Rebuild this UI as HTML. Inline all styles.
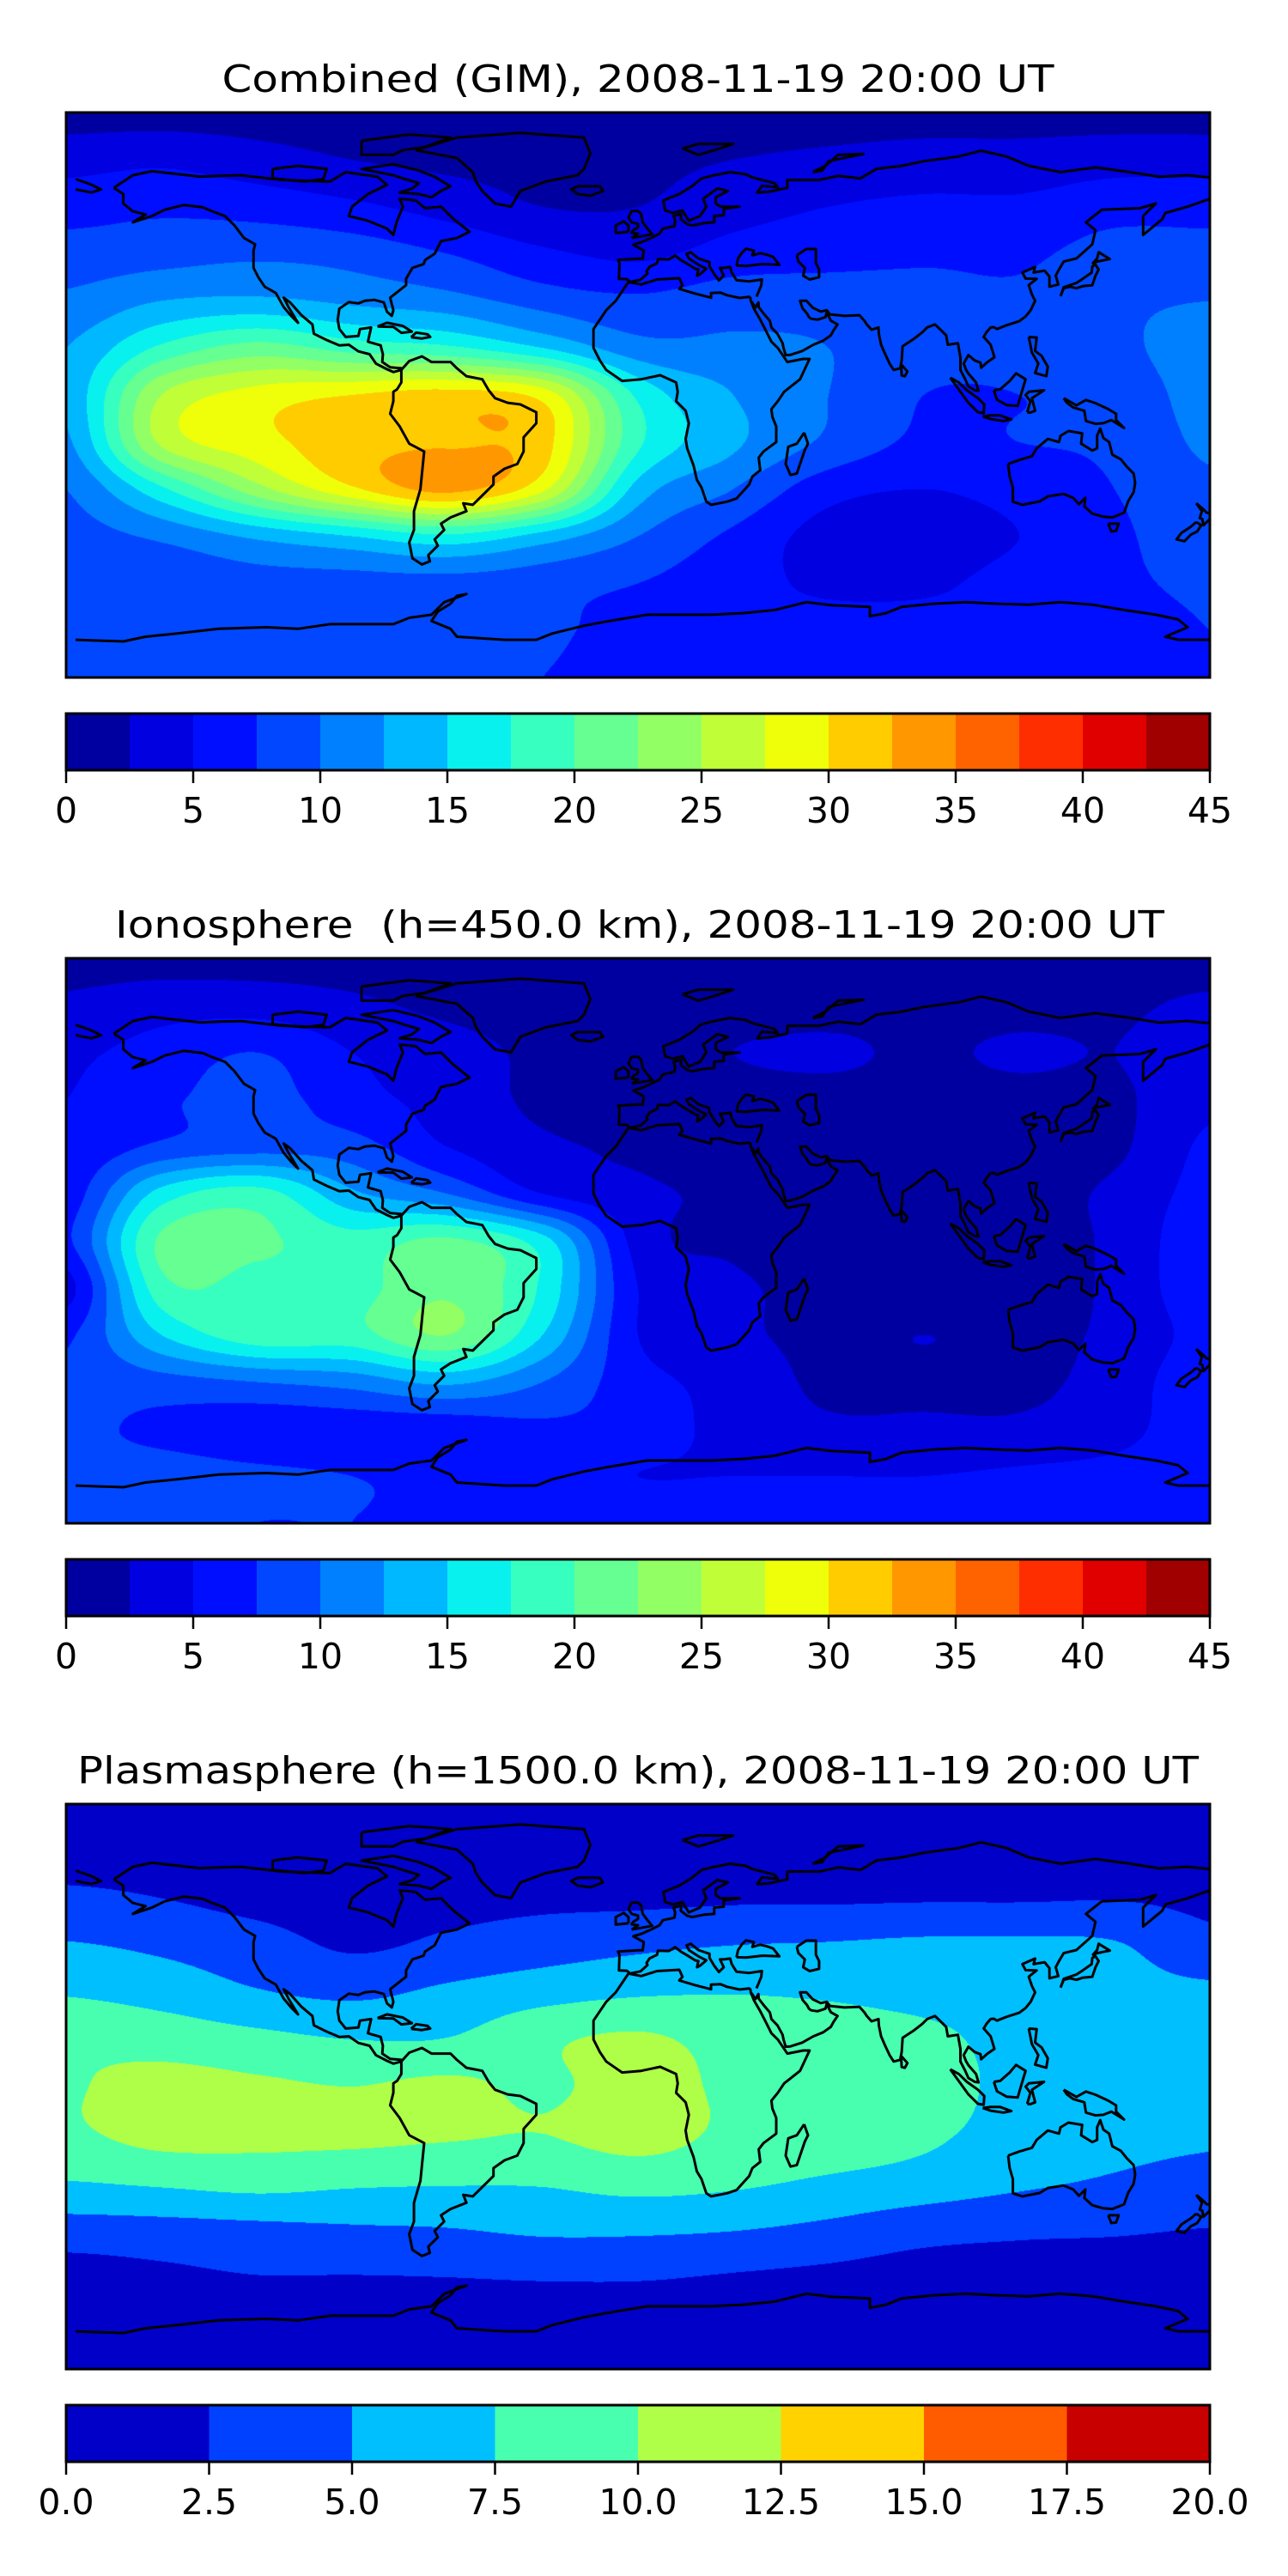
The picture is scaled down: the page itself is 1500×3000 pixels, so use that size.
<!DOCTYPE html>
<html>
<head>
<meta charset="utf-8">
<style>
  html, body { margin: 0; padding: 0; background: #ffffff; }
  body { width: 1500px; height: 3000px; position: relative; overflow: hidden; font-family: "DejaVu Sans", "Liberation Sans", sans-serif; }
  canvas { position: absolute; }
  #overlay { position: absolute; left: 0; top: 0; }
</style>
</head>
<body>
<canvas id="map0" width="1332" height="658" style="left:77px;top:131px"></canvas>
<canvas id="map1" width="1332" height="658" style="left:77px;top:1116px"></canvas>
<canvas id="map2" width="1332" height="658" style="left:77px;top:2101px"></canvas>
<svg id="overlay" width="1500" height="3000" xmlns="http://www.w3.org/2000/svg">
  <text x="743" y="107" font-size="44" text-anchor="middle" textLength="969" lengthAdjust="spacingAndGlyphs" font-family="DejaVu Sans, Liberation Sans, sans-serif">Combined (GIM), 2008-11-19 20:00 UT</text>
  <text x="745" y="1092" font-size="44" text-anchor="middle" textLength="1222" lengthAdjust="spacingAndGlyphs" font-family="DejaVu Sans, Liberation Sans, sans-serif" xml:space="preserve">Ionosphere  (h=450.0 km), 2008-11-19 20:00 UT</text>
  <text x="743" y="2077" font-size="44" text-anchor="middle" textLength="1306" lengthAdjust="spacingAndGlyphs" font-family="DejaVu Sans, Liberation Sans, sans-serif">Plasmasphere (h=1500.0 km), 2008-11-19 20:00 UT</text>
</svg>
<script>
// ---------- data ----------
const lonNodes = [-180,-150,-120,-90,-60,-30,0,30,60,90,120,150,180];
const latNodes = [90,75,60,45,30,15,0,-15,-30,-45,-60,-75,-90];

const combinedGrid = [
  [1.5,1.5,1.5,1.5,1.5,1.5,1.5,1.5,1.5,1.5,1.5,1.5,1.5],
  [4,4.5,3.5,2.5,2,2,2,2.5,3,3.5,3.5,4,4],
  [6.5,7,6.5,5.5,4,2.5,2.5,4,5,5.5,5.5,6.5,6.5],
  [8.5,9,9.5,9,7.5,5.5,4.5,6,6.5,7,7,8.5,8.5],
  [10.5,12.5,13,12,11,9,8,9,9,8.5,8,9.5,10],
  [12.5,18,21,19,18,15,11,10.5,10,8.5,8.5,9.5,11],
  [13,25,28.5,30,31,29,17,12.5,10,7.5,7.5,8.5,11],
  [12,25.5,29,31.5,32.2,31,18,13,9.5,7,7.5,8,10.5],
  [10,17,24,29.5,33.2,28,14,10,6,5,6,7.5,9.5],
  [9,10.5,13,15,17,14,10,7,4,3.5,5,7,9],
  [8.5,8.5,9,9,9,8.5,7.5,6,4.5,4.5,6,7,8],
  [8.5,8.5,9,9,8.5,8,6.5,6,6,6,6,6.5,7.5],
  [8,8,8,8,8,7.5,6.5,6,6,6,6,6.5,7.5]
];
const ionoGrid = [
  [1.5,1.5,1.5,1.5,1.5,1.5,1.5,1.5,1.5,1.5,1.5,1.5,1.5],
  [3,4,4,3,2,1.5,1.5,1.5,1.5,1.5,1.5,2,3],
  [4.5,6,7.5,5,3.5,2,1.5,2.5,3,2,3,2.5,4.5],
  [5,7,8.5,6,4,2,1.5,1.5,1.5,1.5,1.5,2,4.5],
  [5.5,8,9,8.5,5,3,2,1,1,1,1,2,5.5],
  [6,16,18.5,13,10,5,3,2,1,1,1.5,3,6],
  [7,20.5,20.5,18.5,20.5,16,4,2,1,1,1.5,3,7],
  [4,19,19,19,22,17,5,3,1.5,1,1.5,3,7],
  [7,15,19,19,22.5,15,5,3,2,2.5,2,3,6],
  [8,9,10,11,13,10,6,4,2,2,2,3.5,7],
  [8,7,6,6,6,7,6.5,4,3,3,3,4,7],
  [8,8.5,8,7.5,7,6,5,5,5,5,5.5,6,7],
  [8,8,7.5,7.5,7,7,7,7,7,7,7,7,7]
];
const plasmaGrid = [
  [1,1,1,1,1,1,1,1,1,1,1,1,1],
  [1.5,1.5,1.5,1.5,1.5,1.5,1.5,1.5,1.5,1.5,1.5,1.5,1.5],
  [3,2.5,1.8,1.5,1.8,2,2,2.2,2.2,2.3,2.3,2.4,2],
  [5.2,4.5,3.5,2.2,3,3.8,4.5,5,5.2,5.5,5.5,5.2,3.2],
  [7.3,6.5,5.2,4.5,5.5,6.5,7.2,7.4,7.2,6.8,6.5,5.8,5.5],
  [9.5,9,8.2,7.5,7.6,9.5,10.4,9,8.5,8,6.8,6.2,6],
  [9.8,10.8,10.4,10,10.5,9.6,11,9.5,9,8.5,6.8,6,5.8],
  [9.6,10.8,10.6,10.6,10.3,10,11,9.5,9,8,6.5,5.5,5.2],
  [7.5,8,8.5,8,7.8,7.8,8.5,8,7.2,6.5,5.5,4.8,4.5],
  [4,4.2,4.5,4.8,5,5.5,5.5,5.2,4.5,3.5,3,2.8,2.5],
  [1.5,2,2.5,2.5,2.6,2.8,2.8,2.4,2,1.5,1.5,1.5,1.5],
  [1,1,1,1,1,1,1,1,1,1,1,1,1],
  [1,1,1,1,1,1,1,1,1,1,1,1,1]
];
const levelsA = [0,2.5,5,7.5,10,12.5,15,17.5,20,22.5,25,27.5,30,32.5,35,37.5,40,42.5,45];
const levelsB = [0,2.5,5,7.5,10,12.5,15,17.5,20];
const ticksA = ["0","5","10","15","20","25","30","35","40","45"];
const tickValsA = [0,5,10,15,20,25,30,35,40,45];
const ticksB = ["0.0","2.5","5.0","7.5","10.0","12.5","15.0","17.5","20.0"];
const tickValsB = [0,2.5,5,7.5,10,12.5,15,17.5,20];

const coasts = [
 [[-168,66],[-162,70],[-156,71.3],[-141,69.6],[-128,70],[-115,68.5],[-100,68],[-95,71],[-85,69.5],[-82,67],[-88,64],[-93,60],[-94,57],[-88,55.5],[-82,53],[-80,51],[-79,55],[-77,60],[-78,62.5],[-73,62],[-70,59.5],[-65,60],[-61,56],[-56,52],[-60,50],[-65,49],[-67,45],[-70,43],[-70.5,41.7],[-74,40.5],[-76,37],[-76,35],[-81,31],[-80,27],[-80.5,25.2],[-82,26.5],[-83,29.5],[-86,30.3],[-89,30],[-91,29.2],[-94,29.6],[-97,27.5],[-97.5,24],[-97,21],[-95,18.5],[-91,18.8],[-90.5,21],[-87,21.5],[-88,17],[-84,15.8],[-83.3,13],[-83.5,10.5],[-81,8.8],[-77.5,8.5],[-77.5,8],[-80,7.3],[-82,8.2],[-85.5,10],[-87.5,13],[-91,13.9],[-94,16],[-97,15.8],[-101,17.5],[-105,19.5],[-105.5,22.5],[-109,25.5],[-112.5,29.5],[-114.5,31],[-113,28],[-110,23],[-112,25],[-114.5,28],[-117,32.5],[-120.5,34.5],[-122.5,37.5],[-124,40.5],[-124,46],[-123.5,48],[-127,50],[-130,54],[-133,57],[-137,58.5],[-140,59.8],[-146,60.5],[-152,59],[-156,57],[-162,55],[-158,57.5],[-162,58.5],[-165,61],[-165,64],[-168,66]],
 [[-73,78],[-60,82],[-40,83.5],[-20,82],[-18,77],[-20,72],[-22,70],[-32,68],[-40,65],[-43,60],[-48,61],[-52,65],[-54,68],[-55,71],[-60,75.5],[-73,78]],
 [[-80,73.5],[-72,71.5],[-67,69.5],[-62,66.5],[-65,65],[-68,63],[-72,64],[-78,64.5],[-74,65.8],[-72,67.5],[-77,69],[-80,70],[-90,72],[-80,73.5]],
 [[-118,72],[-110,73],[-101,72],[-102,68.8],[-108,68],[-118,69],[-118,72]],
 [[-90,81],[-75,83],[-62,82],[-70,79],[-77,78],[-80,76.5],[-90,76.5],[-90,81]],
 [[-77.5,8],[-75,10.8],[-71,12.3],[-68,10.5],[-62,10.5],[-60,8.5],[-57,6],[-52,5],[-50,1.5],[-48,-1],[-44,-2.5],[-40,-3],[-35,-5.5],[-35,-9],[-39,-13.5],[-39,-18],[-41,-22],[-45,-23.5],[-48.5,-26],[-48.5,-28.5],[-52,-32],[-55,-35],[-58,-34.5],[-57,-37],[-62,-39],[-65,-41],[-64,-43],[-67,-46],[-66,-48],[-69,-51],[-68.5,-53],[-71,-54],[-74,-52],[-75,-47],[-73.5,-43],[-73.5,-37],[-71.5,-30],[-70.3,-18],[-75,-15.5],[-78,-10],[-81,-6],[-80,-2],[-80,1],[-78.8,1.8],[-77.5,4],[-77.5,8]],
 [[32.3,31.3],[29,30.9],[25,31.8],[23,32.6],[20,32.5],[20,31],[15,32.3],[10,33.8],[11,35],[10,37.2],[3,36.8],[-2,35.2],[-6,36],[-10,30],[-13,27],[-17,21],[-17,15],[-15,11],[-13,8],[-8,4.5],[-2,5],[4,6.3],[9,4],[9.5,1],[9,-2],[12,-5],[13,-9],[12,-14],[12.5,-17],[14.5,-22.5],[15.5,-27],[17,-29.5],[18.5,-34],[20,-35],[25,-34],[28,-33],[32,-28.5],[33,-26],[35.5,-24],[35,-20],[36.5,-18],[40.5,-15],[40.5,-10],[39.3,-7],[39,-4.5],[41,-2],[43,1],[48,5],[51,11.5],[49,11.5],[44,10.5],[43,12],[41,15],[39,17],[37,21],[35.5,24],[33.5,27.5],[32.5,30],[32.3,31.3]],
 [[34.3,31.3],[35,33],[35.8,35],[36,36.8],[32,36.2],[28,36.6],[26.5,39],[26,40.8],[24,40.5],[22.8,40.5],[24,38],[22.5,36.5],[21,38.5],[19.5,41],[19.5,42.3],[16,43.5],[13.6,45.5],[12.3,45],[13,43.5],[16,41.5],[18.5,40.2],[16.5,38.5],[15.6,38],[16,40],[15,40.2],[12.5,41.8],[10.5,43],[8.7,44.4],[6.7,43.2],[3.3,43.3],[3,42],[0.6,40.8],[-0.3,39.4],[0,38.7],[-2.2,36.7],[-5.5,36],[-6.5,36.9],[-9,37],[-8.8,42],[-9.3,43],[-3,43.4],[-1.5,43.4],[-1.2,46],[-4.5,47.9],[-1.8,48.7],[1.5,50.2],[3.8,51.4],[4.8,53],[8.5,53.8],[8.7,55.5],[8.2,57],[10.6,57.7],[10.5,56],[12.5,54.4],[14,54],[18,54.8],[21,55],[21,57],[24,57.3],[24,59.3],[29,60],[23,60],[21.5,61],[21.5,63],[25.3,65],[22,65.8],[17.5,62.5],[18.5,60],[16.5,57],[13,55.5],[11,58.8],[8,58],[5.5,58.8],[5,62],[10,64],[14,66.5],[17,69],[21,70],[26,71],[31,70.3],[33,69.3],[40,67.5],[41,66.2],[36,66.6],[34.5,64.5],[38,64.7],[44,66],[44,68.5],[54,68.5],[60,69.8],[67,69],[72,72],[80,73],[87,74.5],[98,76],[105,77.8],[113,76],[120,73],[130,71],[141,72.5],[152,71],[161,69.5],[170,70],[180,69]],
 [[180,65],[177,62.5],[170,60],[163,58],[162,56],[156,51],[156,57],[160,61],[155,59.5],[143,59],[138,55],[141,52.5],[140,48],[135,43.5],[131,42.5],[129.5,40],[128.5,38],[129.3,35.2],[126.5,34.5],[126.5,37.7],[125,39.6],[121.5,39],[122,40.8],[118,39],[119,37.1],[122.5,37],[120,35],[121,32],[122,30],[120.6,27],[119,25],[117,23.5],[113,22.2],[110,21],[109,21.6],[108,21.5],[106.7,20],[105.8,18.5],[108,16],[109.2,12],[107,10.5],[105,8.7],[104.8,10.3],[103,11],[101,12.7],[99.5,10],[100.3,8],[101,6.8],[103.4,4],[104.2,1.3],[103,1.5],[101,2.7],[100,5],[98.5,8],[98.5,12],[97.7,16.5],[94.5,16],[94,19],[92.3,20.7],[90.5,22.5],[88,21.5],[86.5,20],[84,18],[80.3,15.5],[80,11],[79.5,8.5],[77.5,8],[76.2,10],[74.8,13],[73.5,16],[72.8,19.5],[72.7,21.5],[70.5,20.8],[69,22.5],[68.3,23.6],[66.7,25.4],[62,25.2],[57.4,25.7],[56.4,27],[54.5,26.6],[52,27.8],[50,30],[48,30],[48.8,27.6],[50.2,26],[50.8,24.8],[51.5,24.3],[53.5,24],[56,24.8],[56.4,26.3],[57.7,23.7],[59.8,22.5],[58.5,20.5],[57.7,19],[55.3,17.3],[52.2,16],[48.7,14],[45,12.8],[43.5,12.7],[42.8,15],[42.5,16.5],[40.9,19.5],[39,21.5],[38.5,23.6],[36.5,26],[35,28],[34.9,29.5],[34,27.9],[32.7,29.8]],
 [[-180,65.5],[-175,64.5],[-172,65.5],[-175,67],[-180,68.8]],
 [[28,41.2],[31,41.1],[36,41.7],[41.5,41.5],[39.5,44],[37.5,44.7],[35.5,45.2],[33,44.5],[33.5,46],[31,46.6],[29.7,45.3],[28.5,43.5],[28,41.2]],
 [[47,44.5],[50,46.5],[53,46.5],[53,42],[54,40],[54,37.5],[51,36.8],[49,38],[49.5,40.5],[47.5,42.5],[47,44.5]],
 [[-5,50],[1.5,51.2],[0,53],[-1.5,55],[-2,57.7],[-3,58.6],[-5,58.6],[-6,56.5],[-5,55],[-3,54.5],[-3,53.4],[-4.5,52.5],[-5,51.7],[-3,51.4],[-5,50]],
 [[-6,52],[-6,54],[-7.5,55.3],[-10,54],[-10,51.6],[-6,52]],
 [[-22,64],[-24,65.5],[-22,66.5],[-15,66.5],[-14,65],[-18,63.5],[-22,64]],
 [[52,71],[56,73],[60,76.5],[68,76.8],[57,74.5],[55,71.5],[52,71]],
 [[11,78.5],[16,80],[27,80],[21,78],[16,76.5],[11,78.5]],
 [[130,31.5],[131,34],[133,34.5],[135,34],[137,34.7],[140,35],[141,38],[142,40],[141,41.5],[140,41],[139.8,39],[137,37],[135,35.7],[131,34.3],[130,31.5]],
 [[140,41.8],[141.5,42.5],[145.5,43.3],[142,45.5],[141.5,43.5],[140,41.8]],
 [[120,18.5],[122.5,18.3],[122,14],[124,12.5],[126,9],[125.5,6],[122,7],[123,10],[121,13.5],[120,18.5]],
 [[109,1.5],[110,-1.5],[113,-3.2],[116.5,-3.5],[117.8,1],[119,5],[116,6.9],[114,4.5],[111,1.8],[109,1.5]],
 [[95.3,5.5],[98,4],[100.5,1.5],[104,-1],[106,-3],[105.8,-5.8],[104,-5.5],[101,-2.5],[98.5,1],[95.3,5.5]],
 [[105.5,-6.8],[108,-6.5],[111,-6.5],[114.5,-7.8],[112,-8.3],[108,-7.7],[105.5,-6.8]],
 [[119.5,-5.5],[120.5,-2],[119,0],[120,1],[124.8,1.5],[121,-1],[122,-5],[120.5,-5.6],[119.5,-5.5]],
 [[131,-1],[135,-3.3],[138,-1.6],[141,-2.6],[145,-4.5],[147.5,-6],[147.5,-8],[150,-10.5],[146,-8],[143.5,-9],[141,-9.2],[138,-8.3],[137.5,-5],[134,-4],[132,-2.5],[131,-1]],
 [[113.5,-22],[114,-26],[115,-29.5],[115,-34],[118,-35],[123.5,-33.9],[126,-32.3],[131,-31.5],[134,-32.8],[135.8,-34.8],[137.8,-32.8],[137.5,-35.5],[140,-37.8],[143.5,-38.8],[146.3,-39],[150,-37.5],[151.3,-33.8],[153,-31],[153.5,-28],[153,-25],[150.8,-22.8],[149,-20.5],[146.3,-19],[145.3,-15],[143.5,-13.7],[142.5,-10.7],[141.5,-13],[141.5,-17],[140,-17.7],[136.5,-15.5],[136.8,-12.2],[132.5,-11.5],[130,-13],[129.5,-15],[126,-14],[122.5,-17],[121,-19.5],[117,-20.7],[113.5,-22]],
 [[145,-41],[148.3,-41],[147.5,-43.3],[146,-43.5],[145,-41]],
 [[172.7,-34.5],[174.5,-36],[176,-37.5],[178.5,-37.7],[177,-39.5],[175,-41.5],[174.6,-39.5],[173.8,-39.2],[174.5,-37],[172.7,-34.5]],
 [[172.7,-40.5],[174.3,-41.5],[173,-43.5],[171,-44.5],[169,-46.6],[166.5,-46],[168,-44],[171,-42],[172.7,-40.5]],
 [[49.3,-12],[50.5,-15.5],[49.5,-17.5],[47,-25],[45,-25.5],[43.5,-22],[44.3,-16.5],[47,-15.5],[49.3,-12]],
 [[79.8,9.8],[81.8,7.5],[81,6],[80,6.2],[79.8,9.8]],
 [[-85,21.8],[-82,23],[-77,22],[-74.2,20.2],[-77.5,19.8],[-80,21.7],[-85,21.8]],
 [[-74.4,18.4],[-72.8,19.9],[-69.2,19.3],[-68.4,18.5],[-71,18],[-74.4,18.4]],
 [[-180,-78],[-165,-78.5],[-158,-77],[-148,-76],[-135,-74.5],[-120,-74],[-110,-74.5],[-100,-73],[-90,-73],[-80,-73],[-75,-71],[-68,-70],[-64,-66],[-57,-63.4],[-60,-64],[-62,-66.5],[-66,-69],[-68,-72],[-62,-74.5],[-60,-77],[-45,-78],[-35,-78],[-30,-76],[-20,-73.5],[-12,-72],[0,-70],[10,-70],[20,-70],[30,-69.5],[40,-68.5],[50,-66],[58,-67],[70,-67.5],[70,-70.5],[75,-69.5],[80,-67.5],[90,-66.5],[100,-66],[110,-66.5],[120,-66.8],[130,-66],[140,-66.8],[150,-68.5],[160,-70],[167,-71.5],[170,-74],[163,-77],[167,-78],[180,-78]]
];

// ---------- layout ----------
const MAP_X = 77, MAP_W = 1332, MAP_H = 658;
const COAST_LON_SHIFT = 3;
const panelTops = [131, 1116, 2101];
const NS = "http://www.w3.org/2000/svg";
const svg = document.getElementById('overlay');

function jet(x) {
  function seg(pts) {
    for (let i = 0; i < pts.length - 1; i++) {
      const a = pts[i], b = pts[i + 1];
      if (x >= a[0] && x <= b[0]) return a[1] + (b[1] - a[1]) * (x - a[0]) / (b[0] - a[0]);
    }
    return pts[pts.length - 1][1];
  }
  const r = seg([[0,0],[0.35,0],[0.66,1],[0.89,1],[1,0.5]]);
  const g = seg([[0,0],[0.125,0],[0.375,1],[0.64,1],[0.91,0],[1,0]]);
  const b = seg([[0,0.5],[0.11,1],[0.34,1],[0.65,0],[1,0]]);
  return [Math.round(r * 255), Math.round(g * 255), Math.round(b * 255)];
}
function lonToX(lon) { return MAP_X + (lon + 180) / 360 * MAP_W; }
function latToY(lat, top) { return top + (90 - lat) / 180 * MAP_H; }

function cr(p0, p1, p2, p3, t) {
  return 0.5 * ((2 * p1) + (-p0 + p2) * t + (2 * p0 - 5 * p1 + 4 * p2 - p3) * t * t + (-p0 + 3 * p1 - 3 * p2 + p3) * t * t * t);
}
function sampleGrid(grid, lon, lat) {
  const nx = lonNodes.length, ny = latNodes.length;
  const fx = (lon - lonNodes[0]) / (lonNodes[1] - lonNodes[0]);
  const fy = (latNodes[0] - lat) / (latNodes[0] - latNodes[1]);
  let ix = Math.min(Math.floor(fx), nx - 2), iy = Math.min(Math.floor(fy), ny - 2);
  const tx = fx - ix, ty = fy - iy;
  const cl = (v, n) => Math.max(0, Math.min(n - 1, v));
  const rows = [];
  for (let j = -1; j <= 2; j++) {
    const row = grid[cl(iy + j, ny)];
    rows.push(cr(row[cl(ix - 1, nx)], row[ix], row[cl(ix + 1, nx)], row[cl(ix + 2, nx)], tx));
  }
  return cr(rows[0], rows[1], rows[2], rows[3], ty);
}

function drawMap(canvasId, grid, levels) {
  const cv = document.getElementById(canvasId);
  const ctx = cv.getContext('2d');
  const img = ctx.createImageData(MAP_W, MAP_H);
  const n = levels.length - 1;
  const cols = [];
  for (let i = 0; i < n; i++) cols.push(jet((i + 0.5) / n));
  for (let py = 0; py < MAP_H; py++) {
    const lat = 90 - (py + 0.5) / MAP_H * 180;
    for (let px = 0; px < MAP_W; px++) {
      const lon = -180 + (px + 0.5) / MAP_W * 360;
      const v = sampleGrid(grid, lon, lat);
      let k = 0;
      while (k < n - 1 && v >= levels[k + 1]) k++;
      const c = cols[k];
      const o = (py * MAP_W + px) * 4;
      img.data[o] = c[0]; img.data[o + 1] = c[1]; img.data[o + 2] = c[2]; img.data[o + 3] = 255;
    }
  }
  ctx.putImageData(img, 0, 0);
}

function drawCoastsAndFrame(top, idx) {
  const g = document.createElementNS(NS, 'g');
  
  
  const clipId = 'clip' + idx;
  const cp = document.createElementNS(NS, 'clipPath');
  cp.setAttribute('id', clipId);
  const cr2 = document.createElementNS(NS, 'rect');
  cr2.setAttribute('x', MAP_X); cr2.setAttribute('y', top);
  cr2.setAttribute('width', MAP_W); cr2.setAttribute('height', MAP_H);
  cp.appendChild(cr2); svg.appendChild(cp);
  g.setAttribute('clip-path', 'url(#' + clipId + ')');
  coasts.forEach(line => {
    const p = document.createElementNS(NS, 'path');
    
    
    p.setAttribute('d', line.map((pt, i) => (i ? 'L' : 'M') + lonToX(pt[0] + COAST_LON_SHIFT).toFixed(1) + ' ' + latToY(pt[1], top).toFixed(1)).join(''));
    p.setAttribute('fill', 'none'); p.setAttribute('stroke', '#000');
    p.setAttribute('stroke-width', '3'); p.setAttribute('stroke-linejoin', 'round');
    g.appendChild(p);
  });
  svg.appendChild(g);
  const fr = document.createElementNS(NS, 'rect');
  
  
  fr.setAttribute('x', MAP_X); fr.setAttribute('y', top);
  fr.setAttribute('width', MAP_W); fr.setAttribute('height', MAP_H);
  fr.setAttribute('fill', 'none'); fr.setAttribute('stroke', '#000'); fr.setAttribute('stroke-width', '3');
  svg.appendChild(fr);
}

function drawColorbar(top, levels, tickVals, tickLabels, idx) {
  const cbTop = top + 700, cbH = 66;
  const lo = levels[0], hi = levels[levels.length - 1];
  const xs = v => MAP_X + (v - lo) / (hi - lo) * MAP_W;
  const n = levels.length - 1;
  for (let i = 0; i < n; i++) {
    const c = jet((i + 0.5) / n);
    const r = document.createElementNS(NS, 'rect');
    
    
    r.setAttribute('x', xs(levels[i])); r.setAttribute('y', cbTop);
    r.setAttribute('width', xs(levels[i + 1]) - xs(levels[i]) + 0.5); r.setAttribute('height', cbH);
    r.setAttribute('fill', 'rgb(' + c.join(',') + ')');
    svg.appendChild(r);
  }
  const fr = document.createElementNS(NS, 'rect');
  
  
  fr.setAttribute('x', MAP_X); fr.setAttribute('y', cbTop);
  fr.setAttribute('width', MAP_W); fr.setAttribute('height', cbH);
  fr.setAttribute('fill', 'none'); fr.setAttribute('stroke', '#000'); fr.setAttribute('stroke-width', '3');
  svg.appendChild(fr);
  tickVals.forEach((v, i) => {
    const x = xs(v);
    const t = document.createElementNS(NS, 'line');
    
    
    t.setAttribute('x1', x); t.setAttribute('x2', x);
    t.setAttribute('y1', cbTop + cbH); t.setAttribute('y2', cbTop + cbH + 15);
    t.setAttribute('stroke', '#000'); t.setAttribute('stroke-width', '2.5');
    svg.appendChild(t);
    const tx = document.createElementNS(NS, 'text');
    
    
    tx.setAttribute('x', x); tx.setAttribute('y', cbTop + cbH + 61);
    tx.setAttribute('font-size', '41'); tx.setAttribute('text-anchor', 'middle');
    tx.setAttribute('font-family', 'DejaVu Sans, Liberation Sans, sans-serif');
    tx.textContent = tickLabels[i];
    svg.appendChild(tx);
  });
}

drawMap('map0', combinedGrid, levelsA);
drawMap('map1', ionoGrid, levelsA);
drawMap('map2', plasmaGrid, levelsB);
drawCoastsAndFrame(panelTops[0], 0);
drawCoastsAndFrame(panelTops[1], 1);
drawCoastsAndFrame(panelTops[2], 2);
drawColorbar(panelTops[0], levelsA, tickValsA, ticksA, 0);
drawColorbar(panelTops[1], levelsA, tickValsA, ticksA, 1);
drawColorbar(panelTops[2], levelsB, tickValsB, ticksB, 2);
</script>
</body>
</html>
